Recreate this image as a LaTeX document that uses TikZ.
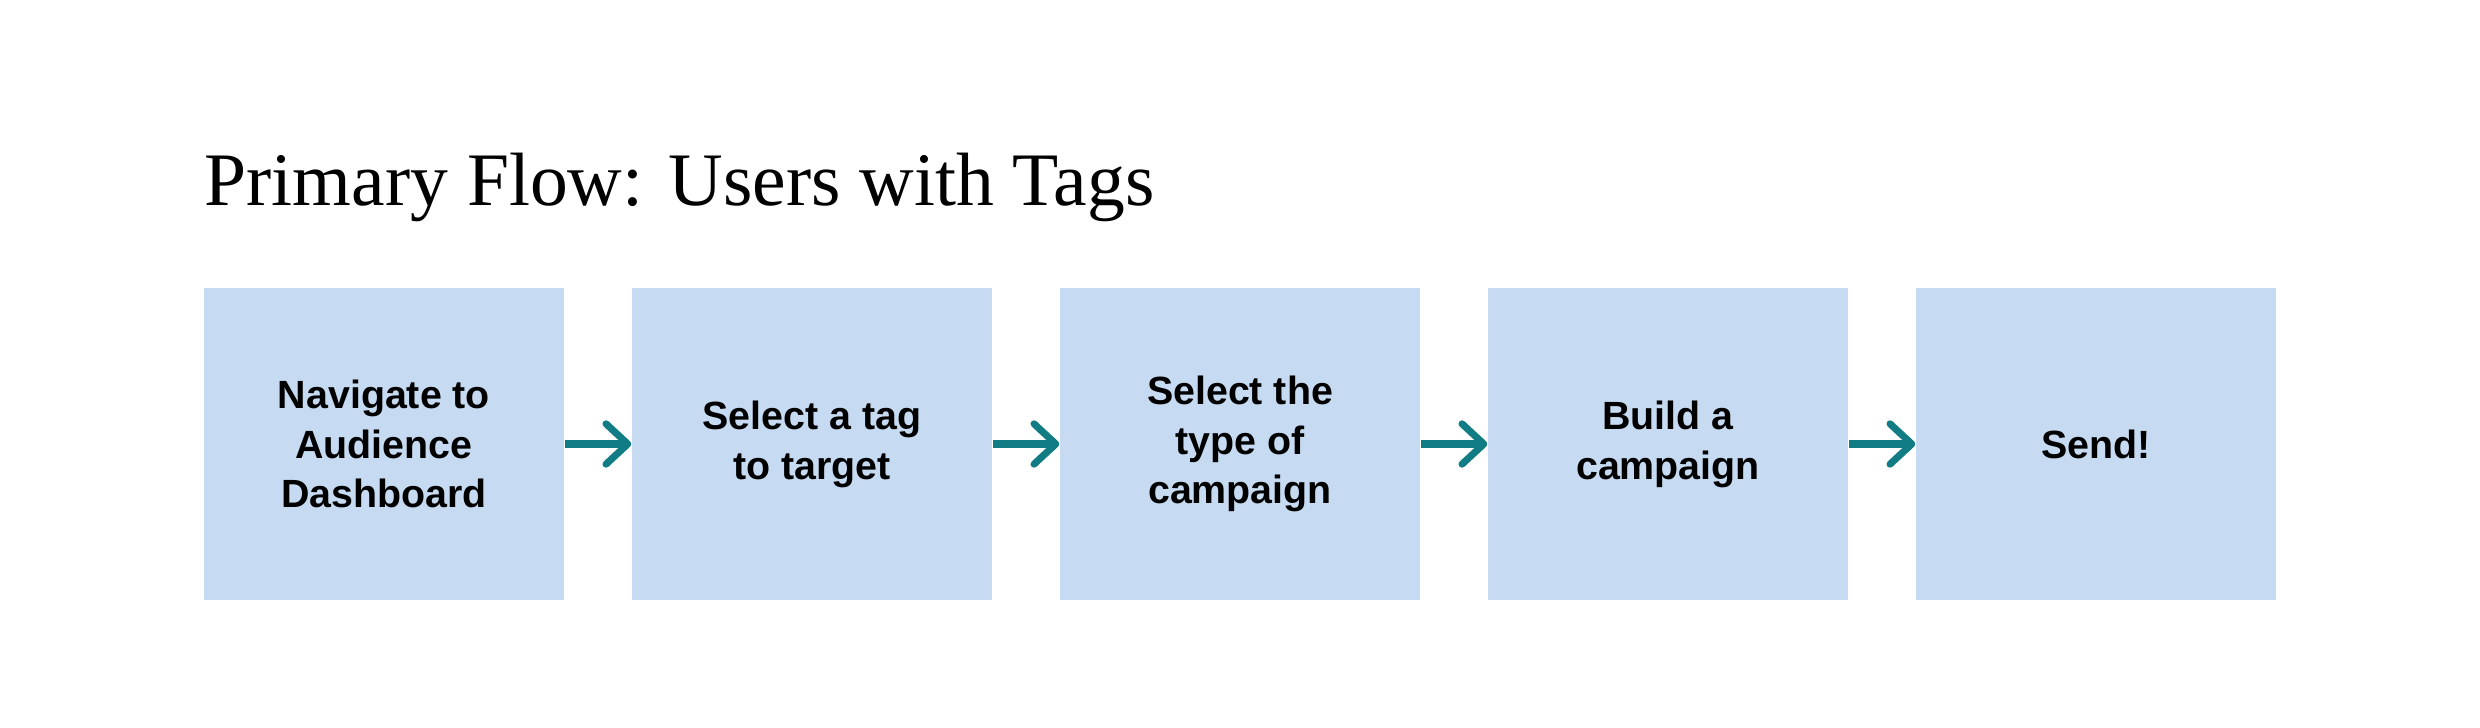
\documentclass[tikz,border=0pt]{standalone}
\usepackage{fontspec}
\setmainfont{Liberation Serif}
\newfontfamily\boxfont{Liberation Sans}
\usetikzlibrary{arrows.meta}
\definecolor{boxblue}{HTML}{C6DBF1}
\definecolor{arrowteal}{HTML}{127C84}
\tikzset{
  stepbox/.style={fill=boxblue, draw=none, inner sep=0pt,
    minimum width=3.6cm, minimum height=3.12cm, align=center,
    font=\boxfont\bfseries\fontsize{11.2}{14.2}\selectfont, text=black},
  flowarrow/.style={draw=arrowteal, line width=2pt,
    -{Straight Barb[length=6.2pt,width=11.5pt,round]}}
}
\begin{document}
\begin{tikzpicture}
\useasboundingbox (0,0) rectangle (24.8,-7.28);
\node[anchor=base west, inner sep=0pt, font=\fontsize{21.5}{26}\selectfont] (title) at (2.04,-2.06) {Primary Flow: Users with Tags};
\node[stepbox] (s1) at (3.84,-4.44) {Navigate to\\Audience\\Dashboard};
\node[stepbox] (s2) at (8.12,-4.44) {Select a tag\\to target};
\node[stepbox] (s3) at (12.40,-4.44) {Select the\\type of\\campaign};
\node[stepbox] (s4) at (16.68,-4.44) {Build a\\campaign};
\node[stepbox] (s5) at (20.96,-4.44) {Send!};
\draw[flowarrow] (s1.east) -- (s2.west);
\draw[flowarrow] (s2.east) -- (s3.west);
\draw[flowarrow] (s3.east) -- (s4.west);
\draw[flowarrow] (s4.east) -- (s5.west);
\end{tikzpicture}
\end{document}
